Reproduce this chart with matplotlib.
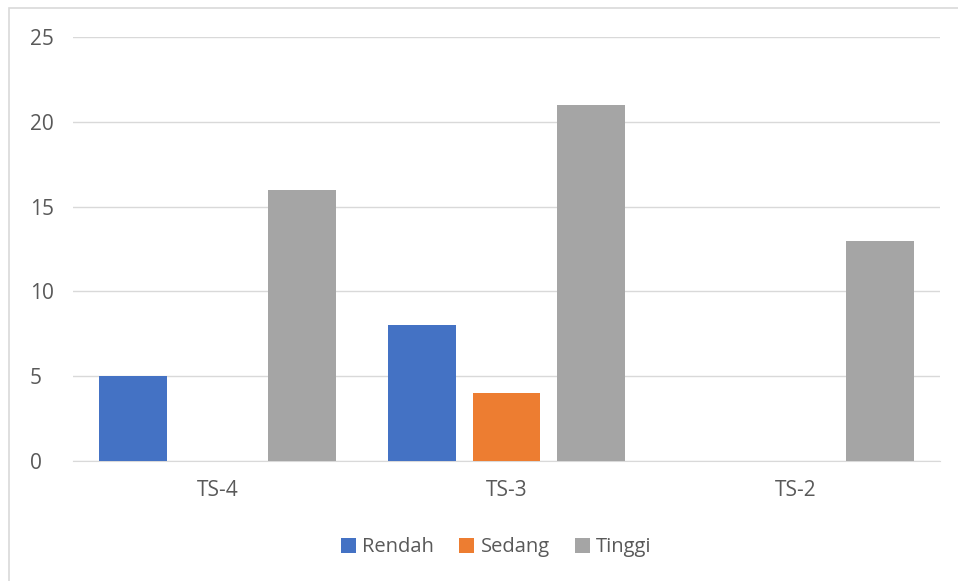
import numpy as np
import matplotlib
matplotlib.use("Agg")
import matplotlib.pyplot as plt
from matplotlib.patches import Rectangle

plt.rcParams['font.family'] = ['Open Sans', 'DejaVu Sans']

# data
categories = ["TS-4", "TS-3", "TS-2"]
series_names = ["Rendah", "Sedang", "Tinggi"]
rendah = [5, 8, 0]
sedang = [0, 4, 0]
tinggi = [16, 21, 13]
colors = ["#4472C4", "#ED7D31", "#A5A5A5"]

fig = plt.figure(figsize=(9.58, 5.81), dpi=100)
ax = fig.add_axes([0.0762, 0.2065, 0.9048, 0.7298])

x = np.arange(len(categories))
width = 0.234
offset = 0.293
for i, (vals, name) in enumerate(zip([rendah, sedang, tinggi], series_names)):
    ax.bar(x + (i - 1) * offset, vals, width, color=colors[i], label=name, zorder=3)

ax.set_xlim(-0.5, 2.5)
ax.set_ylim(0, 25)
ax.set_yticks(range(0, 26, 5))
ax.set_xticks(x)
ax.set_xticklabels(categories)
ax.grid(axis='y', color='#D9D9D9', linewidth=1, zorder=0)
for s in ['top', 'right', 'left']:
    ax.spines[s].set_visible(False)
ax.spines['bottom'].set_color('#D9D9D9')
ax.tick_params(axis='both', length=0, labelsize=15, colors='#595959')
ax.tick_params(axis='y', pad=31)
ax.tick_params(axis='x', pad=14)
for lbl in ax.get_yticklabels():
    lbl.set_horizontalalignment('left')

leg = fig.legend(loc='center', bbox_to_anchor=(0.518, 0.058), ncol=3, frameon=False,
                 fontsize=14.5, handlelength=0.75, handleheight=0.75, handletextpad=0.3,
                 columnspacing=1.25)
for t in leg.get_texts():
    t.set_color('#595959')

# outer chart border (left and top visible)
fig.patches.append(Rectangle((9 / 958, -0.1), 1.2, 1 - 8 / 581 + 0.1, transform=fig.transFigure,
                             fill=False, edgecolor='#D9D9D9', linewidth=1.2))

fig.savefig("out.png", dpi=100)
